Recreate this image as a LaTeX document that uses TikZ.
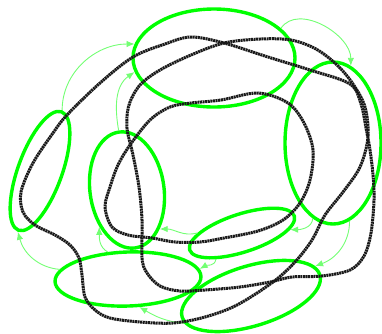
\documentclass[tikz,border=0pt]{standalone}
\usetikzlibrary{shapes.geometric,arrows.meta}
\begin{document}
\begin{tikzpicture}[x=1pt,y=-1pt,
  blob/.style={ellipse,draw=green,line width=3.4pt,inner sep=0pt},
  hop/.style={-{Latex[length=8pt,width=6.5pt]},draw=green!55,line width=0.9pt},
  wire/.style={draw=black!90,line width=3pt,dash pattern=on 2pt off 0.6pt}]
  \useasboundingbox (0,0) rectangle (382,333);
  % green rings
  \node[blob,minimum width=162pt,minimum height=98pt] (ctop) at (214,58) {};
  \node[blob,minimum width=96pt,minimum height=162pt] (cright) at (333,143) {};
  \node[blob,minimum width=126pt,minimum height=44pt,rotate=70] (cleft) at (40,171) {};
  \node[blob,minimum width=117pt,minimum height=74pt,rotate=98] (cmidl) at (127,190) {};
  \node[blob,minimum width=110pt,minimum height=38pt,rotate=18] (cmidr) at (242,233) {};
  \node[blob,minimum width=146pt,minimum height=54pt,rotate=2] (cbotl) at (128,279) {};
  \node[blob,minimum width=144pt,minimum height=60pt,rotate=17] (cbotr) at (251,296) {};
  % links between rings
  \draw[hop] (cleft.east) to[out=90,in=180] (ctop.170);
  \draw[hop] (cmidl.east) to[out=100,in=215] (ctop.190);
  \draw[hop] (ctop.24) to[out=55,in=90] (cright.77);
  \draw[hop] (cright.282) to[out=-90,in=20] (cbotr.8);
  \draw[hop] (cright.255) to[out=-95,in=0] (cmidr.-14);
  \draw[hop] (cmidr.207) to[out=-95,in=30] (cbotl.6);
  \draw[hop] (cmidr.162) to[out=195,in=0] (cmidl.212);
  \draw[hop] (cbotl.125) to[out=150,in=-90] (cmidl.135);
  \draw[hop] (cbotl.170) to[out=175,in=-75] (cleft.west);
  \draw[hop] (cbotr.185) to[out=175,in=-30] (cbotl.290);
  % black tours
  \draw[wire] plot[smooth cycle,tension=0.55] coordinates {
    (33,163) (53,133) (67,115) (100,83) (133,57) (165,44) (191,37) (224,43)
    (268,57) (310,70) (350,84) (361,104) (366,128) (370,150) (373,175)
    (374,200) (371,233) (364,256) (350,270) (322,276) (292,277) (270,282)
    (240,287) (205,290) (180,291) (160,286) (147,273) (142,258) (142,220)
    (139,187) (133,155) (127,128) (129,105) (140,85) (160,70) (191,55)
    (224,43) (260,39) (291,40) (316,49) (337,65) (353,84) (365,107)
    (368,137) (360,167) (343,192) (325,215) (312,240) (295,262) (273,282)
    (237,305) (205,317) (173,323) (140,322) (110,318) (95,310) (85,297)
    (82,275) (79,258) (70,245) (55,235) (35,225) (23,212) (21,192)};
  \draw[wire] plot[smooth cycle,tension=0.55] coordinates {
    (191,103) (221,100) (258,93) (288,103) (304,123) (313,150) (310,180)
    (300,203) (283,220) (258,231) (224,238) (200,242) (175,242) (152,238)
    (128,235) (112,227) (105,207) (110,187) (118,165) (130,145) (150,120)
    (170,107)};
\end{tikzpicture}
\end{document}
